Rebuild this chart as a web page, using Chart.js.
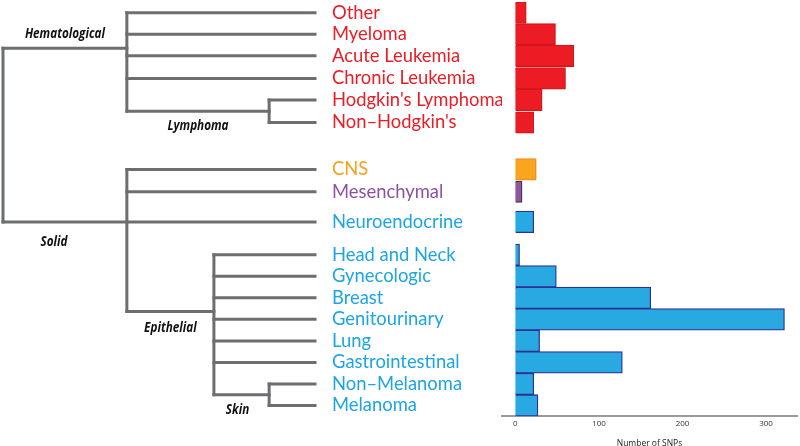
<!DOCTYPE html>
<html><head><meta charset="utf-8">
<script src="https://cdn.jsdelivr.net/npm/chart.js@4.4.0/dist/chart.umd.min.js"></script>
<style>
html,body{margin:0;padding:0;background:#fff;}
#wrap{position:relative;width:800px;height:446px;overflow:hidden;}
#wrap canvas{position:absolute;left:0;top:0;}
</style></head><body>
<div id="wrap"><canvas id="bars" width="800" height="446"></canvas><canvas id="tree" width="800" height="446"></canvas></div>
<script>
// ---- data ----
const categories = ['Other','Myeloma','Acute Leukemia','Chronic Leukemia',"Hodgkin's Lymphoma","Non\u2013Hodgkin's",
  'CNS','Mesenchymal','Neuroendocrine',
  'Head and Neck','Gynecologic','Breast','Genitourinary','Lung','Gastrointestinal','Non\u2013Melanoma','Melanoma'];
const snpCounts = [13, 48, 70, 60, 32, 22, 25, 8, 22, 5, 49, 162, 322, 29, 128, 22, 27];
const tumorGroup = ['heme','heme','heme','heme','heme','heme','cns','mes','solid',
  'solid','solid','solid','solid','solid','solid','solid','solid'];
const rowPos = [0, 1, 2, 3.05, 4.05, 5.1, 7.28, 8.32, 9.72, 11.25, 12.25, 13.25, 14.25, 15.25, 16.25, 17.25, 18.25];
const leafParent = ['Hematological','Hematological','Hematological','Hematological','Lymphoma','Lymphoma',
  'Solid','Solid','Solid','Epithelial','Epithelial','Epithelial','Epithelial','Epithelial','Epithelial','Skin','Skin'];
const cladeNames  = ['root','Hematological','Lymphoma','Solid','Epithelial','Skin'];
const cladeParent = [null,'root','Hematological','root','Solid','Epithelial'];
const cladeDepth  = [0, 3.97, 8.53, 3.97, 6.76, 8.53];
const cladeRow    = [null, 1.65, 4.575, 9.72, 13.88, 17.75];
const leafDepth = 10;
const xTicks = [0, 100, 200, 300];
const axisTitle = 'Number of SNPs';

// ---- styles ----
const fillColor   = {heme:'#ED1C24', cns:'#F9A51E', mes:'#8E55A2', solid:'#29A9E1'};
const strokeColor = {heme:'#D2161E', cns:'#F08A24', mes:'#3A3A3A', solid:'#2E3192'};
const textColor   = {heme:'#EC1C24', cns:'#F7A21E', mes:'#8B52A1', solid:'#1CA5E2'};
const labelOffset = {Hematological:[0,-15], Lymphoma:[0,15], Solid:[-11,20], Epithelial:[0,16], Skin:[-4,15]};

const barChart = new Chart(document.getElementById('bars'), {
  type: 'bar',
  data: {
    datasets: [{
      data: categories.map((c, i) => ({x: snpCounts[i], y: rowPos[i]})),
      backgroundColor: ctx => fillColor[tumorGroup[ctx.dataIndex]],
      borderColor: ctx => strokeColor[tumorGroup[ctx.dataIndex]],
      borderWidth: 1.3,
      barPercentage: 1,
      categoryPercentage: 1
    }]
  },
  options: {
    indexAxis: 'y',
    responsive: false,
    animation: false,
    layout: {padding: {left: 332, top: 2, right: 3, bottom: 0}},
    plugins: {legend: {display: false}, tooltip: {enabled: false}},
    scales: {
      x: {
        type: 'linear', min: -16, max: 337,
        grid: {display: false, drawTicks: false},
        border: {color: '#9B9B9B', width: 2},
        afterBuildTicks: s => { s.ticks = xTicks.map(v => ({value: v})); },
        ticks: {font: {size: 8, family: 'Open Sans'}, color: '#333', padding: 3, maxRotation: 0},
        title: {display: true, text: axisTitle, font: {size: 8.5, family: 'Open Sans'}, color: '#222', padding: {top: 7, bottom: -3}}
      },
      y: {
        type: 'linear', reverse: true, min: -0.5, max: 18.75, offset: false,
        grid: {display: false, drawTicks: false},
        border: {display: false},
        afterBuildTicks: s => { s.ticks = rowPos.map(v => ({value: v})); },
        afterFit: s => { s.width = 170; s.paddingTop = 0; s.paddingBottom = 0; },
        ticks: {
          autoSkip: false, crossAlign: 'far', padding: 0,
          color: c => textColor[tumorGroup[c.index]],
          font: {size: 18.4, family: 'Lato'},
          callback: (v, i) => categories[i]
        }
      }
    }
  }
});

// dendrogram segments from tree arrays
function cladeIndex(n) { return cladeNames.indexOf(n); }
const segments = [];
const childRows = {};
cladeNames.forEach(n => childRows[n] = []);
categories.forEach((c, i) => {
  const p = cladeIndex(leafParent[i]);
  segments.push([{x: cladeDepth[p], y: rowPos[i]}, {x: leafDepth, y: rowPos[i]}]);
  childRows[leafParent[i]].push(rowPos[i]);
});
cladeNames.forEach((n, i) => {
  if (cladeParent[i]) {
    const p = cladeIndex(cladeParent[i]);
    segments.push([{x: cladeDepth[p], y: cladeRow[i]}, {x: cladeDepth[i], y: cladeRow[i]}]);
    childRows[cladeParent[i]].push(cladeRow[i]);
  }
});
cladeNames.forEach((n, i) => {
  const r = childRows[n];
  segments.push([{x: cladeDepth[i], y: Math.min(...r)}, {x: cladeDepth[i], y: Math.max(...r)}]);
});

const cladeLabels = {
  id: 'cladeLabels',
  afterDatasetsDraw(chart) {
    const {ctx, scales: {x, y}} = chart;
    ctx.save();
    ctx.fillStyle = '#111';
    ctx.font = 'italic bold 15px "Open Sans"';
    ctx.textAlign = 'center';
    ctx.textBaseline = 'middle';
    cladeNames.forEach((n, i) => {
      if (!cladeParent[i]) return;
      const p = cladeIndex(cladeParent[i]);
      const off = labelOffset[n];
      const cx = (x.getPixelForValue(cladeDepth[p]) + x.getPixelForValue(cladeDepth[i])) / 2 + off[0];
      const cy = y.getPixelForValue(cladeRow[i]) + off[1];
      ctx.save();
      ctx.translate(cx, cy);
      ctx.scale(0.78, 1);
      ctx.fillText(n, 0, 0);
      ctx.restore();
    });
    ctx.restore();
  }
};

const ca = barChart.chartArea;
new Chart(document.getElementById('tree'), {
  type: 'scatter',
  data: {datasets: segments.map(s => ({data: s, showLine: true, borderColor: '#6D6E71', borderWidth: 3,
    pointRadius: 0, borderCapStyle: 'square', clip: false}))},
  options: {
    responsive: false, animation: false,
    layout: {padding: {left: 3, right: 485, top: ca.top, bottom: 446 - ca.bottom}},
    plugins: {legend: {display: false}, tooltip: {enabled: false}},
    scales: {
      x: {type: 'linear', min: 0, max: 10, display: false},
      y: {type: 'linear', min: -0.5, max: 18.75, reverse: true, display: false}
    }
  },
  plugins: [cladeLabels]
});
</script>
</body></html>
